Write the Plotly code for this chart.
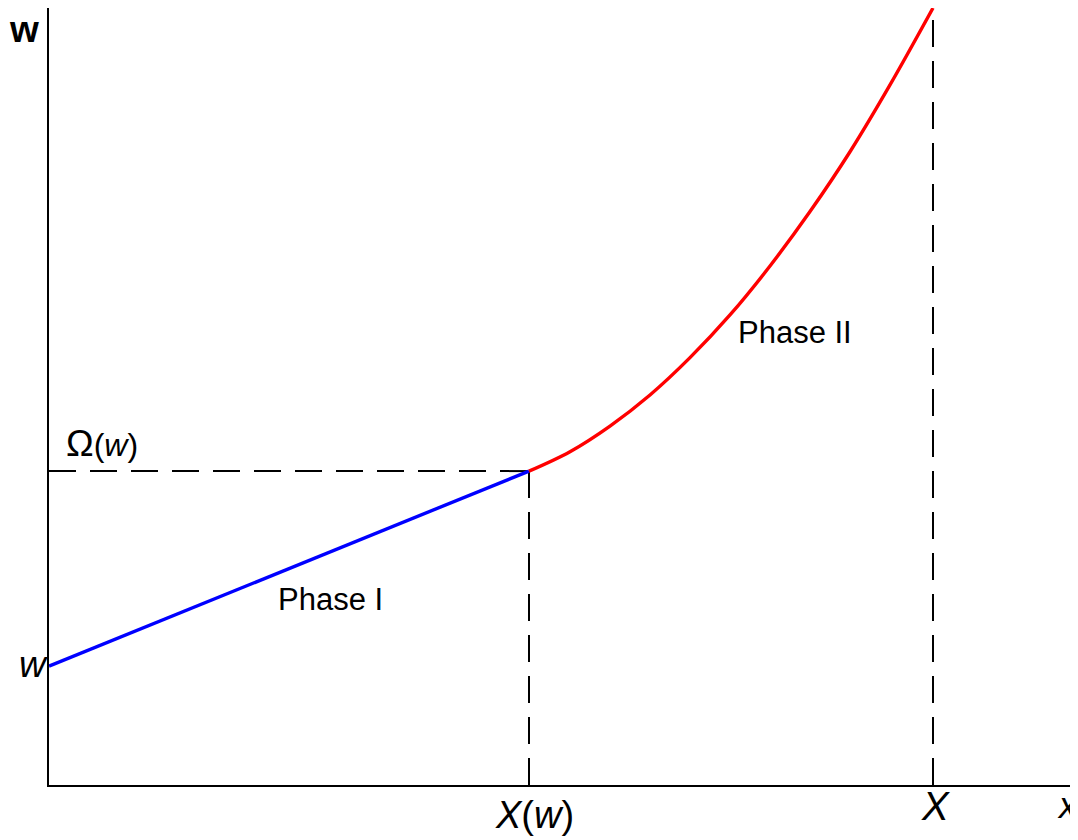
import plotly.graph_objects as go

# Data (abstract units)
w0 = 1.53          # starting value w
omega_w = 4.04     # Ω(w)
X_w = 4.80         # X(w)
X_end = 8.84       # X

phase1_x = [0.0, X_w]
phase1_y = [w0, omega_w]

phase2_x = [4.80, 5.21, 5.61, 6.01, 6.41, 6.81, 7.21, 7.61, 8.01, 8.41, 8.84]
phase2_y = [4.04, 4.29, 4.62, 5.02, 5.50, 6.05, 6.68, 7.38, 8.15, 9.01, 10.0]

x_max = 10.29
y_max = 10.0

FONT = "Liberation Sans, Arial, sans-serif"
dash = "27px,14px"

fig = go.Figure()

# dashed guides
fig.add_trace(go.Scatter(x=[0, X_w], y=[omega_w, omega_w], mode="lines",
                         line=dict(color="black", width=2, dash=dash), hoverinfo="skip"))
fig.add_trace(go.Scatter(x=[X_w, X_w], y=[0, omega_w], mode="lines",
                         line=dict(color="black", width=2, dash=dash), hoverinfo="skip"))
fig.add_trace(go.Scatter(x=[X_end, X_end], y=[0, y_max], mode="lines",
                         line=dict(color="black", width=2, dash=dash), hoverinfo="skip"))

# Phase I and Phase II
fig.add_trace(go.Scatter(x=phase1_x, y=phase1_y, mode="lines",
                         line=dict(color="#0000ff", width=3.4)))
fig.add_trace(go.Scatter(x=phase2_x, y=phase2_y, mode="lines",
                         line=dict(color="#ff0000", width=3.4, shape="spline", smoothing=1.0)))

fig.update_traces(cliponaxis=False)

def P(x, y):
    return x / x_max, y / y_max

# (x, y, text, size, yanchor)
labels = [
    (-0.245, y_max, "<b>w</b>", 37, "top"),
    (-0.155, w0 + 0.025, "<i>w</i>", 37, "middle"),
    (0.53, 4.39, "Ω<span style='font-size:32px'>(<i>w</i>)</span>", 37, "middle"),
    (2.81, 2.39, "Phase I", 31, "middle"),
    (7.46, 5.82, "Phase II", 31, "middle"),
    (X_w + 0.05, -0.38, "<i>X</i>(<i>w</i>)", 38, "middle"),
    (X_end + 0.02, -0.27, "<i>X</i>", 40, "middle"),
    (10.19, -0.27, "<i>x</i>", 36, "middle"),
]
ann = []
for x, y, t, s, ya in labels:
    px, py = P(x, y)
    ann.append(dict(x=px, y=py, xref="paper", yref="paper", text=t, showarrow=False,
                    xanchor="center", yanchor=ya, borderpad=0,
                    font=dict(family=FONT, color="black", size=s)))

fig.update_layout(
    width=1070, height=832,
    margin=dict(l=41, r=0, t=0, b=55),
    paper_bgcolor="white", plot_bgcolor="white",
    showlegend=False,
    annotations=ann,
    xaxis=dict(range=[0, x_max], showgrid=False, zeroline=False, showticklabels=False,
               ticks="", showline=True, linecolor="black", linewidth=2),
    yaxis=dict(range=[0, y_max], showgrid=False, zeroline=False, showticklabels=False,
               ticks="", showline=True, linecolor="black", linewidth=2),
)

fig.write_html("out.html")
